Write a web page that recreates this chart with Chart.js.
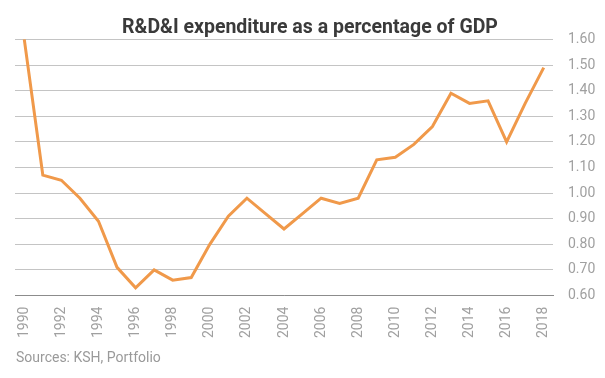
<!DOCTYPE html>
<html>
<head>
<meta charset="utf-8">
<script src="https://cdn.jsdelivr.net/npm/chart.js@4"></script>
<style>
  html, body { margin: 0; padding: 0; background: #fff; }
  #wrap { position: relative; width: 605px; height: 378px; }
  #c { position: absolute; left: 0; top: 0; }
  #src { position: absolute; left: 16px; top: 349px; font: 14px Roboto, sans-serif; color: #9a9a9a; }
</style>
</head>
<body>
<div id="wrap">
  <canvas id="c" width="605" height="378"></canvas>
  <div id="src">Sources: KSH, Portfolio</div>
</div>
<script>
const years = ["1990","1991","1992","1993","1994","1995","1996","1997","1998","1999",
  "2000","2001","2002","2003","2004","2005","2006","2007","2008","2009",
  "2010","2011","2012","2013","2014","2015","2016","2017","2018"];
const rdiShare = [1.60,1.07,1.05,0.98,0.89,0.71,0.63,0.70,0.66,0.67,
  0.80,0.91,0.98,0.92,0.86,0.92,0.98,0.96,0.98,1.13,
  1.14,1.19,1.26,1.39,1.35,1.36,1.20,1.35,1.49];
const yTicks = [0.60,0.70,0.80,0.90,1.00,1.10,1.20,1.30,1.40,1.50,1.60];
const chartTitle = "R&D&I expenditure as a percentage of GDP";

new Chart(document.getElementById('c'), {
  type: 'line',
  data: {
    labels: years,
    datasets: [{
      data: rdiShare,
      borderColor: '#F0994A',
      borderWidth: 3,
      pointRadius: 0,
      tension: 0,
      fill: false,
      clip: false
    }]
  },
  options: {
    responsive: false,
    animation: false,
    layout: { padding: { left: 15, right: 0, top: 11, bottom: 29 } },
    plugins: {
      legend: { display: false },
      tooltip: { enabled: false },
      title: {
        display: true,
        text: chartTitle,
        color: '#3a3a3a',
        font: { family: 'Roboto', size: 19.5, weight: 'bold' },
        padding: { top: 5, bottom: 0 }
      }
    },
    scales: {
      x: {
        type: 'category',
        offset: true,
        grid: { display: false, drawTicks: false },
        border: { display: true, color: '#8c8c8c', width: 1 },
        ticks: {
          autoSkip: false,
          minRotation: 90,
          maxRotation: 90,
          padding: 11,
          color: '#a0a0a0',
          font: { family: 'Roboto', size: 14 },
          callback: function(v, i) { return i % 2 === 0 ? years[i] : null; }
        }
      },
      y: {
        position: 'right',
        min: 0.6,
        max: 1.6,
        afterBuildTicks: function(s) { s.ticks = yTicks.map(v => ({ value: v })); },
        afterFit: function(s) { s.width = 52; },
        grid: { color: '#c4c4c4', drawTicks: false, lineWidth: 1 },
        border: { display: false },
        ticks: {
          padding: 15,
          color: '#a0a0a0',
          font: { family: 'Roboto', size: 14 },
          callback: function(v) { return v.toFixed(2); }
        }
      }
    }
  }
});
</script>
</body>
</html>
